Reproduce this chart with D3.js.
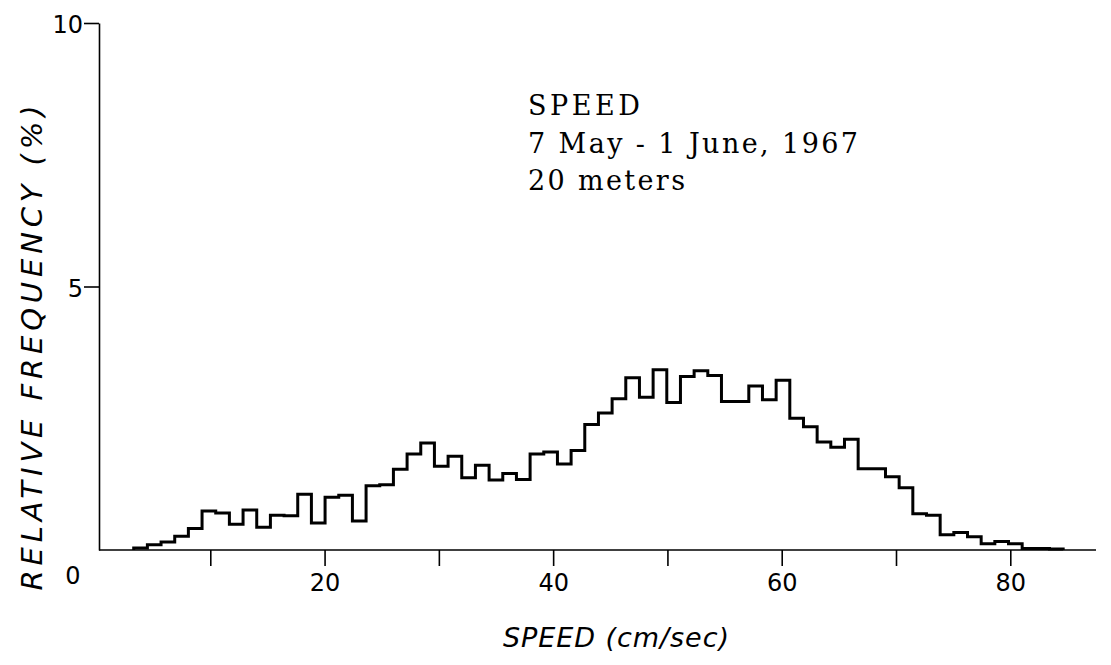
<!DOCTYPE html>
<html>
<head>
<meta charset="utf-8">
<script src="https://cdn.jsdelivr.net/npm/d3@7"></script>
<style>
  body { margin: 0; background: #fff; }
  svg { display: block; }
  .axis path, .axis line { stroke: #000; stroke-width: 1.6px; }
  .axis text { font-family: "DejaVu Sans", sans-serif; font-size: 24px; fill: #000; }
</style>
</head>
<body>
<svg id="chart" width="1111" height="665"></svg>
<script>
'use strict';

// histogram bins (cm/sec) and relative frequency (%)
var binStart = 3.3;
var binWidth = 1.196;
var frequency = [
    0.04, 0.10, 0.15, 0.26, 0.41, 0.74, 0.70, 0.49, 0.76, 0.43,
    0.66, 0.65, 1.06, 0.51, 1.00, 1.04, 0.55, 1.22, 1.24, 1.53,
    1.82, 2.03, 1.59, 1.78, 1.37, 1.61, 1.33, 1.45, 1.34, 1.82,
    1.86, 1.63, 1.89, 2.38, 2.60, 2.87, 3.27, 2.90, 3.42, 2.80,
    3.29, 3.40, 3.31, 2.82, 2.82, 3.11, 2.85, 3.22, 2.50, 2.34,
    2.05, 1.95, 2.10, 1.54, 1.54, 1.39, 1.18, 0.69, 0.66, 0.29,
    0.33, 0.25, 0.12, 0.16, 0.12, 0.03, 0.03, 0.02
];

var xTicks = [10, 20, 30, 40, 50, 60, 70, 80];
var xTickLabels = [20, 40, 60, 80];
var yTicks = [5, 10];
var notes = ["SPEED", "7 May - 1 June, 1967", "20 meters"];
var xTitle = "SPEED (cm/sec)";
var yTitle = "RELATIVE FREQUENCY (%)";

var svg = d3.select("#chart");

var x = d3.scaleLinear().domain([0, 87.5]).range([96, 1096]);
var y = d3.scaleLinear().domain([0, 10]).range([550, 23]);
var axisX = 99;

// step outline of the histogram
var pts = [[binStart, 0]];
frequency.forEach(function(f, i) {
    pts.push([binStart + i * binWidth, f]);
});
pts.push([binStart + frequency.length * binWidth, 0]);

var line = d3.line()
    .x(function(d) { return x(d[0]); })
    .y(function(d) { return y(d[1]); })
    .curve(d3.curveStepAfter);

// axes
var gx = svg.append("g")
    .attr("class", "axis")
    .attr("transform", "translate(0," + y(0) + ")")
    .call(d3.axisBottom(x)
        .tickValues(xTicks)
        .tickSize(16)
        .tickSizeOuter(0)
        .tickPadding(8)
        .tickFormat(function(d) { return xTickLabels.indexOf(d) >= 0 ? d : ""; }));
gx.select(".domain").attr("d", "M" + axisX + ",0H" + x(87.5));

var gy = svg.append("g")
    .attr("class", "axis")
    .attr("transform", "translate(" + axisX + ",0)")
    .call(d3.axisLeft(y)
        .tickValues(yTicks)
        .tickSize(15)
        .tickSizeOuter(0)
        .tickPadding(1));
gy.selectAll("text").attr("dy", "0.4em");

svg.append("text")
    .attr("x", 73)
    .attr("y", y(0) + 34)
    .attr("text-anchor", "middle")
    .style("font-family", "'DejaVu Sans', sans-serif")
    .style("font-size", "24px")
    .text("0");

svg.append("path")
    .datum(pts)
    .attr("d", line)
    .attr("fill", "none")
    .attr("stroke", "#000")
    .attr("stroke-width", 3)
    .attr("stroke-linejoin", "miter");

// annotation block
var noteWidths = [112, 330, 157];
svg.selectAll(".note")
    .data(notes)
    .enter().append("text")
    .attr("class", "note")
    .attr("x", 528)
    .attr("y", function(d, i) { return 115 + i * 37.5; })
    .attr("textLength", function(d, i) { return noteWidths[i]; })
    .attr("lengthAdjust", "spacing")
    .style("font-family", "'DejaVu Serif', 'Liberation Serif', serif")
    .style("font-size", "27px")
    .text(function(d) { return d; });

// axis titles
svg.append("text")
    .attr("x", 616)
    .attr("y", 647)
    .attr("text-anchor", "middle")
    .attr("textLength", 226)
    .attr("lengthAdjust", "spacing")
    .style("font-family", "'DejaVu Sans', sans-serif")
    .style("font-style", "italic")
    .style("font-size", "27px")
    .text(xTitle);

svg.append("text")
    .attr("transform", "translate(42,348) rotate(-90)")
    .attr("text-anchor", "middle")
    .attr("textLength", 485)
    .attr("lengthAdjust", "spacing")
    .style("font-family", "'DejaVu Sans', sans-serif")
    .style("font-style", "italic")
    .style("font-size", "29px")
    .text(yTitle);
</script>
</body>
</html>
